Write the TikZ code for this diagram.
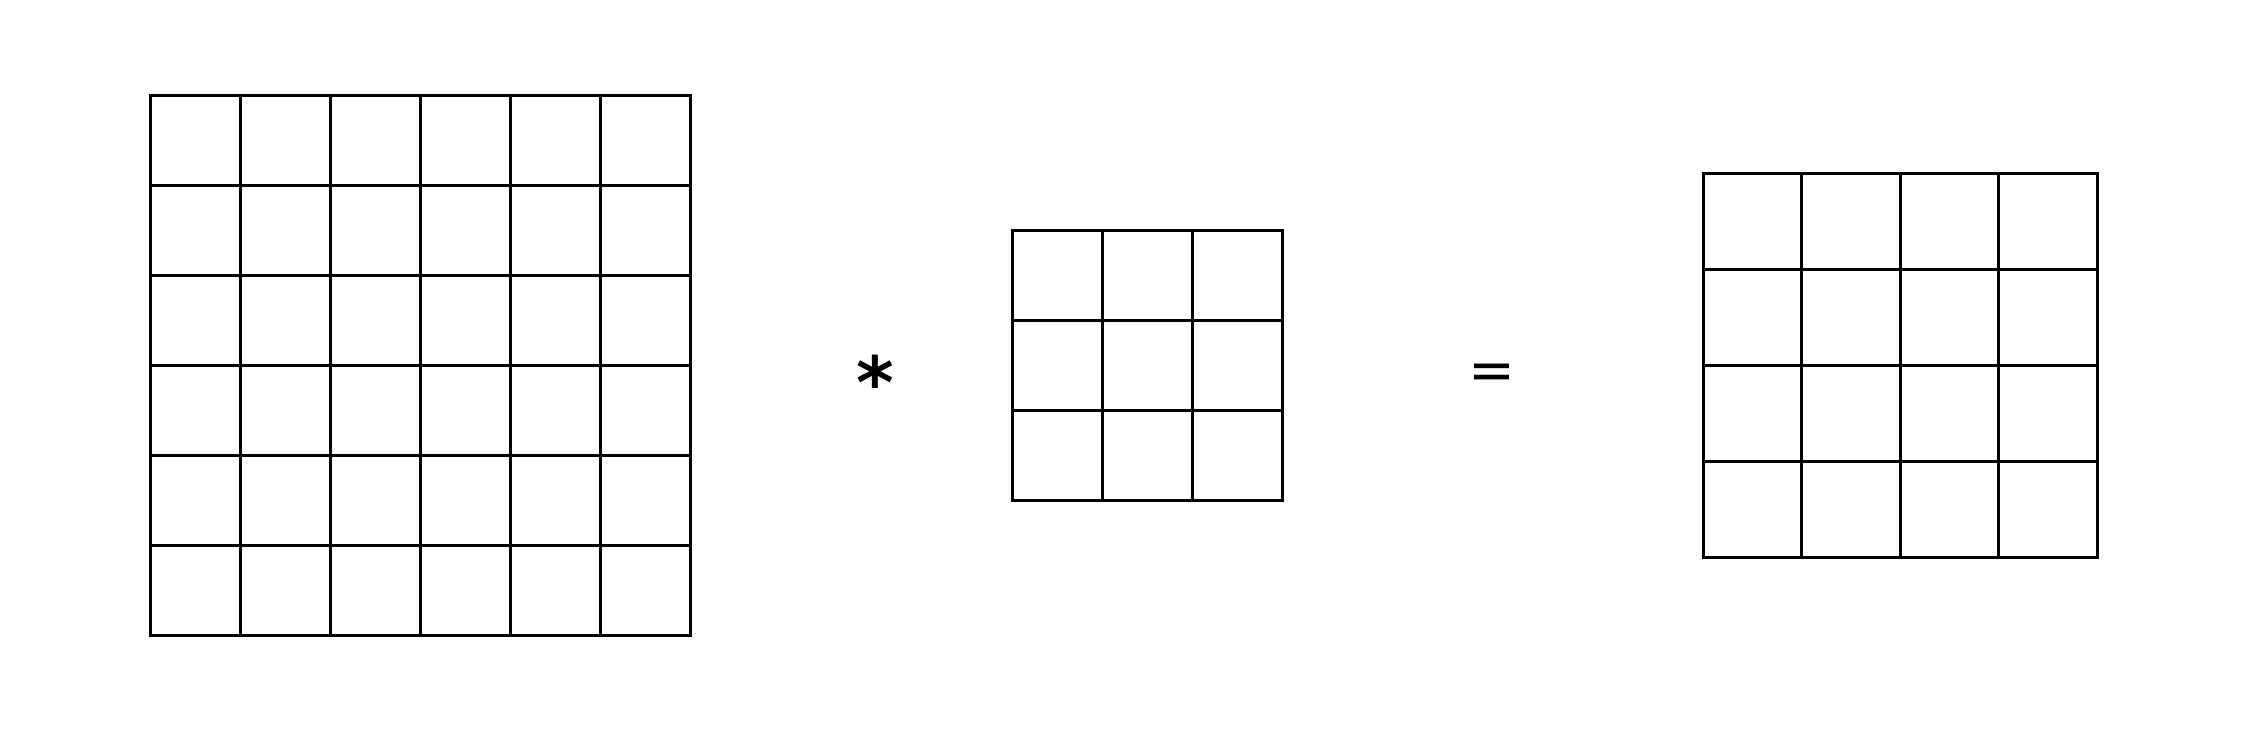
\documentclass[tikz,border=0pt]{standalone}
\usepackage{fontspec}
\newfontfamily\symfont{DejaVu Sans}
\tikzset{gridline/.style={line width=1.5pt, black, line cap=rect}, op/.style={font=\symfont\fontsize{28}{34}\selectfont, inner sep=0pt}}
\begin{document}
\begin{tikzpicture}[x=0.5pt,y=-0.5pt]
\useasboundingbox (0,0) rectangle (2254,746);
% left 6x6
\foreach \i in {0,...,6} {
  \draw[gridline] ({150+90*\i},95) -- ({150+90*\i},635);
  \draw[gridline] (150,{95+90*\i}) -- (690,{95+90*\i});
}
% middle 3x3
\foreach \i in {0,...,3} {
  \draw[gridline] ({1012+90*\i},230) -- ({1012+90*\i},500);
  \draw[gridline] (1012,{230+90*\i}) -- (1282,{230+90*\i});
}
% right 4x4
\foreach \i in {0,...,4} {
  \draw[gridline] ({1703+98.5*\i},173) -- ({1703+98.5*\i},557);
  \draw[gridline] (1703,{173+96*\i}) -- (2097,{173+96*\i});
}
\node[op, font=\symfont\bfseries\fontsize{36}{40}\selectfont] (star) at (875,382) {*};
\node[op] (eq) at (1492,377) {=};
\end{tikzpicture}
\end{document}
